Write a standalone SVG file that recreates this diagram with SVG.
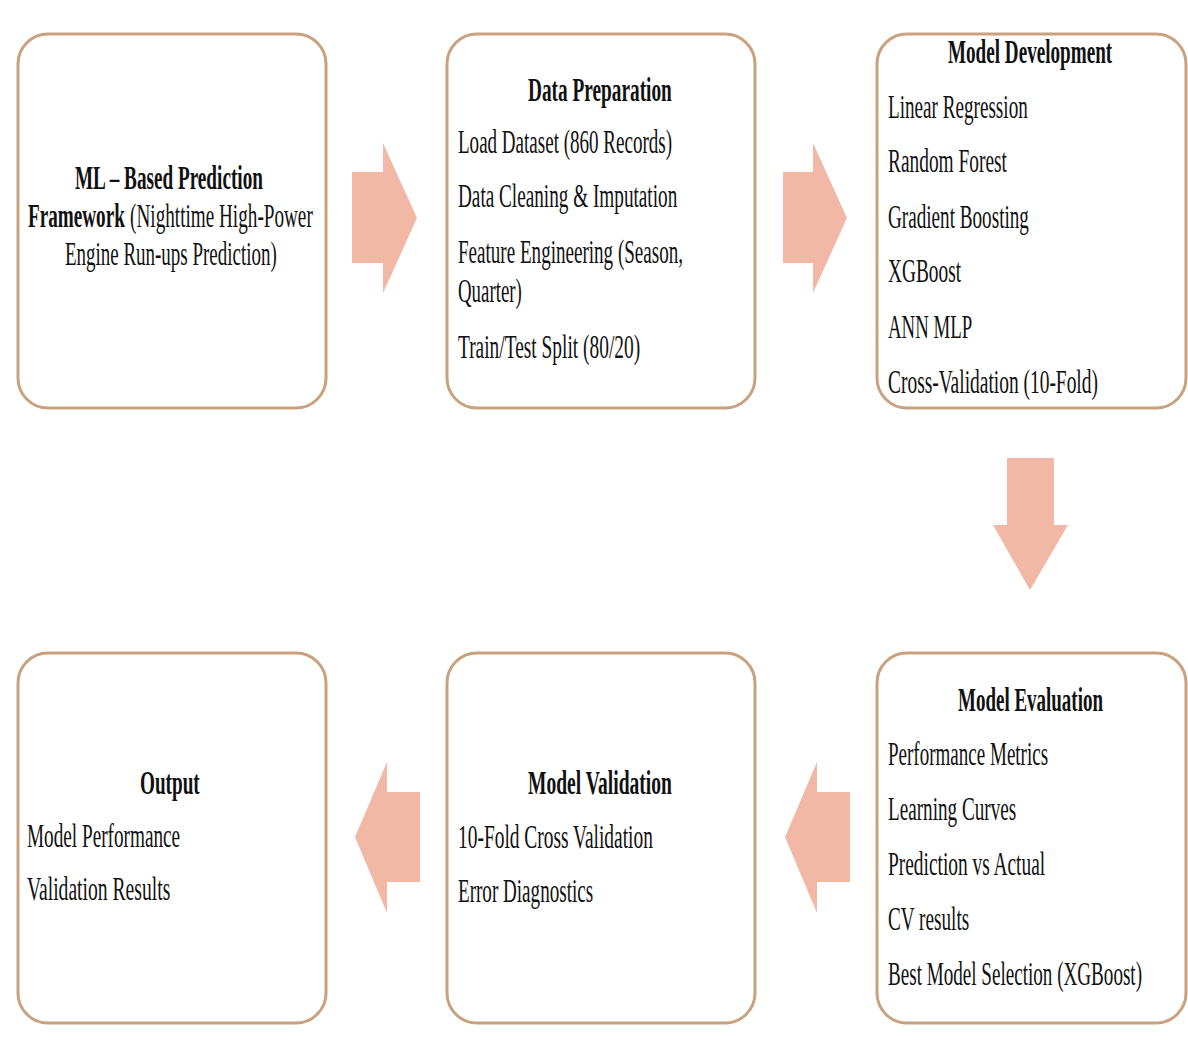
<svg xmlns="http://www.w3.org/2000/svg" width="1188" height="1052" viewBox="0 0 1188 1052">
<style>
.box{fill:#ffffff;stroke:#c9a17e;stroke-width:3}
.t{font-family:"Liberation Serif","Times New Roman",serif;font-size:33px;fill:#111111}
.b{font-weight:bold}
.arr{fill:#f1b8a5}
</style>
<rect width="1188" height="1052" fill="#ffffff"/>
<g id="node-framework">
<rect class="box" x="18" y="34" width="308" height="374" rx="30"/>
<text class="t b" transform="translate(75 189) scale(0.58 1)" textLength="324" lengthAdjust="spacingAndGlyphs">ML – Based Prediction</text>
<text class="t" transform="translate(28 227) scale(0.58 1)"><tspan class="b" textLength="167" lengthAdjust="spacingAndGlyphs">Framework</tspan><tspan x="176" textLength="315" lengthAdjust="spacingAndGlyphs">(Nighttime High-Power</tspan></text>
<text class="t" transform="translate(65 265) scale(0.58 1)" textLength="365" lengthAdjust="spacingAndGlyphs">Engine Run-ups Prediction)</text>
</g>
<g id="node-data-preparation">
<rect class="box" x="447" y="34" width="308" height="374" rx="30"/>
<text class="t b" transform="translate(528 101) scale(0.58 1)" textLength="248" lengthAdjust="spacingAndGlyphs">Data Preparation</text>
<text class="t" transform="translate(458 153) scale(0.58 1)" textLength="369" lengthAdjust="spacingAndGlyphs">Load Dataset (860 Records)</text>
<text class="t" transform="translate(458 207) scale(0.58 1)" textLength="378" lengthAdjust="spacingAndGlyphs">Data Cleaning &amp; Imputation</text>
<text class="t" transform="translate(458 263) scale(0.58 1)" textLength="388" lengthAdjust="spacingAndGlyphs">Feature Engineering (Season,</text>
<text class="t" transform="translate(458 302) scale(0.58 1)" textLength="110" lengthAdjust="spacingAndGlyphs">Quarter)</text>
<text class="t" transform="translate(458 358) scale(0.58 1)" textLength="314" lengthAdjust="spacingAndGlyphs">Train/Test Split (80/20)</text>
</g>
<g id="node-model-development">
<rect class="box" x="877" y="34" width="309" height="374" rx="30"/>
<text class="t b" transform="translate(948 63) scale(0.58 1)" textLength="283" lengthAdjust="spacingAndGlyphs">Model Development</text>
<text class="t" transform="translate(888 118) scale(0.58 1)" textLength="241" lengthAdjust="spacingAndGlyphs">Linear Regression</text>
<text class="t" transform="translate(888 172) scale(0.58 1)" textLength="205" lengthAdjust="spacingAndGlyphs">Random Forest</text>
<text class="t" transform="translate(888 228) scale(0.58 1)" textLength="243" lengthAdjust="spacingAndGlyphs">Gradient Boosting</text>
<text class="t" transform="translate(888 282) scale(0.58 1)" textLength="126" lengthAdjust="spacingAndGlyphs">XGBoost</text>
<text class="t" transform="translate(888 338) scale(0.58 1)" textLength="145" lengthAdjust="spacingAndGlyphs">ANN MLP</text>
<text class="t" transform="translate(888 393) scale(0.58 1)" textLength="362" lengthAdjust="spacingAndGlyphs">Cross-Validation (10-Fold)</text>
</g>
<g id="node-model-evaluation">
<rect class="box" x="877" y="653" width="309" height="370" rx="30"/>
<text class="t b" transform="translate(958 711) scale(0.58 1)" textLength="250" lengthAdjust="spacingAndGlyphs">Model Evaluation</text>
<text class="t" transform="translate(888 765) scale(0.58 1)" textLength="276" lengthAdjust="spacingAndGlyphs">Performance Metrics</text>
<text class="t" transform="translate(888 820) scale(0.58 1)" textLength="221" lengthAdjust="spacingAndGlyphs">Learning Curves</text>
<text class="t" transform="translate(888 875) scale(0.58 1)" textLength="271" lengthAdjust="spacingAndGlyphs">Prediction vs Actual</text>
<text class="t" transform="translate(888 930) scale(0.58 1)" textLength="140" lengthAdjust="spacingAndGlyphs">CV results</text>
<text class="t" transform="translate(888 985) scale(0.58 1)" textLength="438" lengthAdjust="spacingAndGlyphs">Best Model Selection (XGBoost)</text>
</g>
<g id="node-model-validation">
<rect class="box" x="447" y="653" width="308" height="370" rx="30"/>
<text class="t b" transform="translate(528 794) scale(0.58 1)" textLength="248" lengthAdjust="spacingAndGlyphs">Model Validation</text>
<text class="t" transform="translate(458 848) scale(0.58 1)" textLength="336" lengthAdjust="spacingAndGlyphs">10-Fold Cross Validation</text>
<text class="t" transform="translate(458 902) scale(0.58 1)" textLength="233" lengthAdjust="spacingAndGlyphs">Error Diagnostics</text>
</g>
<g id="node-output">
<rect class="box" x="18" y="653" width="308" height="370" rx="30"/>
<text class="t b" transform="translate(140 794) scale(0.58 1)" textLength="103" lengthAdjust="spacingAndGlyphs">Output</text>
<text class="t" transform="translate(27 847) scale(0.58 1)" textLength="264" lengthAdjust="spacingAndGlyphs">Model Performance</text>
<text class="t" transform="translate(27 900) scale(0.58 1)" textLength="247" lengthAdjust="spacingAndGlyphs">Validation Results</text>
</g>
<g id="connectors">
<polygon class="arr" points="352,172 383,172 383,143 417,218 383,293 383,263 352,263"/>
<polygon class="arr" points="783,172 813,172 813,143 847,218 813,293 813,263 783,263"/>
<polygon class="arr" points="1007,458 1054,458 1054,525 1068,525 1030,590 993,525 1007,525"/>
<polygon class="arr" points="850,792 817,792 817,762 785,837 817,913 817,882 850,882"/>
<polygon class="arr" points="420,792 387,792 387,762 355,837 387,913 387,882 420,882"/>
</g>
</svg>
